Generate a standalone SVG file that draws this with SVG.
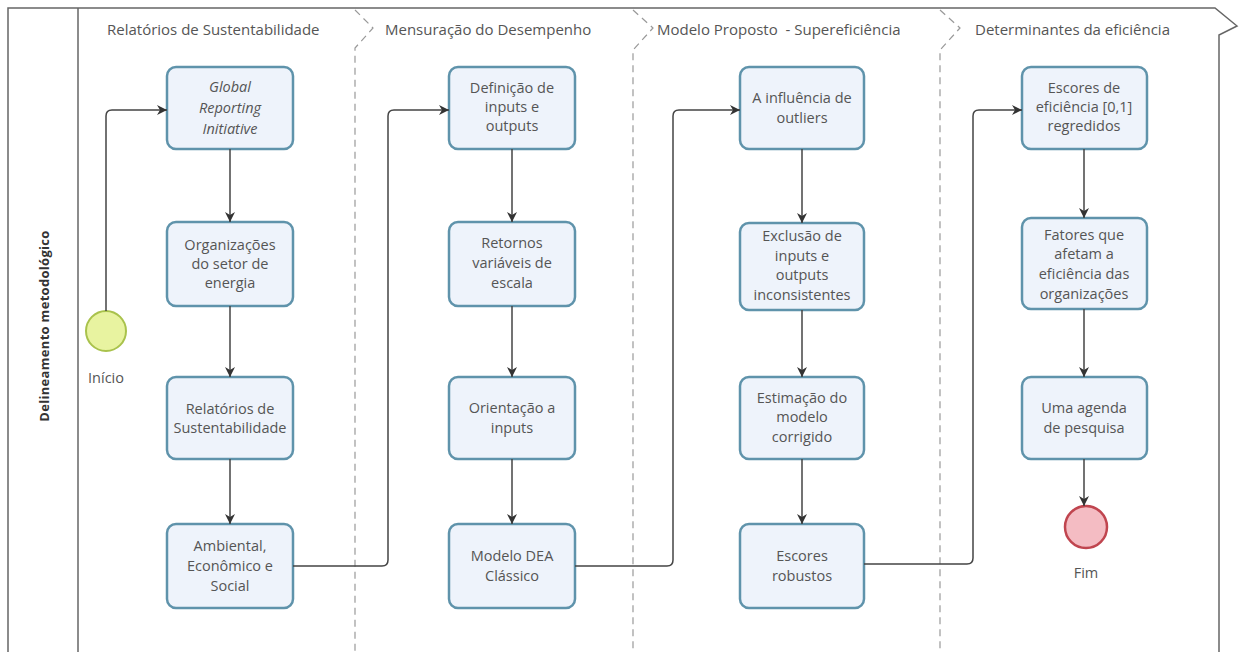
<svg xmlns="http://www.w3.org/2000/svg" width="1240" height="652" viewBox="0 0 1240 652">
<defs>
<style>
.node rect{fill:#eef3fb;stroke:#5f93ab;stroke-width:2.5}
.node text,.lbl{font-family:"Open Sans","Noto Sans",sans-serif;font-size:14.5px;fill:#555;text-anchor:middle}
.title{font-family:"Open Sans","Noto Sans",sans-serif;font-size:15px;fill:#555}
.sep{fill:none;stroke:#999;stroke-width:1.2;stroke-dasharray:7,5}
.conn path{fill:none;stroke:#444;stroke-width:1.5}
</style>
<marker id="ah" viewBox="0 0 10 10" refX="10" refY="5" markerWidth="10" markerHeight="10" markerUnits="userSpaceOnUse" orient="auto">
<path d="M0,0 L10,5 L0,10 L3,5 Z" fill="#333"/>
</marker>
</defs>
<rect width="1240" height="652" fill="#ffffff"/>
<g id="pool">
<path d="M8,652 L8,8 L1215,8 L1237,26 L1219,35 L1219,652" fill="none" stroke="#666" stroke-width="1.5"/>
<line x1="78" y1="8" x2="78" y2="652" stroke="#666" stroke-width="1.5"/>
<text x="49" y="326" transform="rotate(-90 49 326)" font-family="'Open Sans','Noto Sans',sans-serif" font-size="13px" font-weight="bold" fill="#333" text-anchor="middle" letter-spacing="0.3">Delineamento metodológico</text>
</g>
<g id="lanes">
<path class="sep" d="M355,10 L373,28 L355,48 L355,652"/>
<path class="sep" d="M633,10 L653,28 L633,50 L633,652"/>
<path class="sep" d="M940,10 L960,28 L940,50 L940,652"/>
<text class="title" x="107" y="35">Relatórios de Sustentabilidade</text>
<text class="title" x="385" y="35">Mensuração do Desempenho</text>
<text class="title" x="657" y="35" xml:space="preserve">Modelo Proposto  - Supereficiência</text>
<text class="title" x="975" y="35">Determinantes da eficiência</text>
</g>
<g id="start">
<circle cx="106" cy="331" r="20" fill="#e8f3a0" stroke="#a9c24c" stroke-width="2"/>
<text class="lbl" x="106" y="383">Início</text>
</g>
<g id="end">
<circle cx="1086" cy="527" r="21" fill="#f4bcc3" stroke="#c0454f" stroke-width="2.5"/>
<text class="lbl" x="1086" y="578">Fim</text>
</g>
<g id="n1" class="node"><rect x="167" y="67" width="126" height="82" rx="9"/><text x="230" y="92" font-style="italic">Global</text><text x="230" y="113" font-style="italic">Reporting</text><text x="230" y="134" font-style="italic">Initiative</text></g>
<g id="n2" class="node"><rect x="167" y="222" width="126" height="84" rx="9"/><text x="230" y="250">Organizações</text><text x="230" y="269">do setor de</text><text x="230" y="288">energia</text></g>
<g id="n3" class="node"><rect x="167" y="377" width="126" height="82" rx="9"/><text x="230" y="414">Relatórios de</text><text x="230" y="433">Sustentabilidade</text></g>
<g id="n4" class="node"><rect x="167" y="524" width="126" height="84" rx="9"/><text x="230" y="551">Ambiental,</text><text x="230" y="571">Econômico e</text><text x="230" y="591">Social</text></g>
<g id="n5" class="node"><rect x="449" y="67" width="126" height="82" rx="9"/><text x="512" y="93">Definição de</text><text x="512" y="112">inputs e</text><text x="512" y="131">outputs</text></g>
<g id="n6" class="node"><rect x="449" y="222" width="126" height="84" rx="9"/><text x="512" y="248">Retornos</text><text x="512" y="268">variáveis de</text><text x="512" y="288">escala</text></g>
<g id="n7" class="node"><rect x="449" y="377" width="126" height="82" rx="9"/><text x="512" y="413">Orientação a</text><text x="512" y="433">inputs</text></g>
<g id="n8" class="node"><rect x="449" y="524" width="126" height="84" rx="9"/><text x="512" y="561">Modelo DEA</text><text x="512" y="581">Clássico</text></g>
<g id="n9" class="node"><rect x="740" y="67" width="124" height="82" rx="9"/><text x="802" y="103">A influência de</text><text x="802" y="123">outliers</text></g>
<g id="n10" class="node"><rect x="740" y="223" width="124" height="87" rx="9"/><text x="802" y="241">Exclusão de</text><text x="802" y="261">inputs e</text><text x="802" y="280">outputs</text><text x="802" y="300">inconsistentes</text></g>
<g id="n11" class="node"><rect x="740" y="377" width="124" height="82" rx="9"/><text x="802" y="403">Estimação do</text><text x="802" y="422">modelo</text><text x="802" y="442">corrigido</text></g>
<g id="n12" class="node"><rect x="740" y="524" width="124" height="84" rx="9"/><text x="802" y="561">Escores</text><text x="802" y="581">robustos</text></g>
<g id="n13" class="node"><rect x="1022" y="67" width="125" height="82" rx="9"/><text x="1084" y="93">Escores de</text><text x="1084" y="112">eficiência [0,1]</text><text x="1084" y="131">regredidos</text></g>
<g id="n14" class="node"><rect x="1022" y="218" width="125" height="91" rx="9"/><text x="1084" y="240">Fatores que</text><text x="1084" y="259">afetam a</text><text x="1084" y="279">eficiência das</text><text x="1084" y="299">organizações</text></g>
<g id="n15" class="node"><rect x="1022" y="377" width="125" height="82" rx="9"/><text x="1084" y="413">Uma agenda</text><text x="1084" y="433">de pesquisa</text></g>
<g id="connectors" class="conn">
<path d="M106,311 L106,116 Q106,110 112,110 L167,110" marker-end="url(#ah)"/>
<path d="M230,149 L230,222" marker-end="url(#ah)"/>
<path d="M230,306 L230,377" marker-end="url(#ah)"/>
<path d="M230,459 L230,524" marker-end="url(#ah)"/>
<path d="M293,566 L382,566 Q388,566 388,560 L388,116 Q388,110 394,110 L449,110" marker-end="url(#ah)"/>
<path d="M512,149 L512,222" marker-end="url(#ah)"/>
<path d="M512,306 L512,377" marker-end="url(#ah)"/>
<path d="M512,459 L512,524" marker-end="url(#ah)"/>
<path d="M575,566 L667,566 Q673,566 673,560 L673,116 Q673,110 679,110 L740,110" marker-end="url(#ah)"/>
<path d="M802,149 L802,223" marker-end="url(#ah)"/>
<path d="M802,310 L802,377" marker-end="url(#ah)"/>
<path d="M802,459 L802,524" marker-end="url(#ah)"/>
<path d="M864,564 L967,564 Q973,564 973,558 L973,116 Q973,110 979,110 L1022,110" marker-end="url(#ah)"/>
<path d="M1084,149 L1084,218" marker-end="url(#ah)"/>
<path d="M1084,309 L1084,377" marker-end="url(#ah)"/>
<path d="M1084,459 L1084,506" marker-end="url(#ah)"/>
</g>
</svg>
